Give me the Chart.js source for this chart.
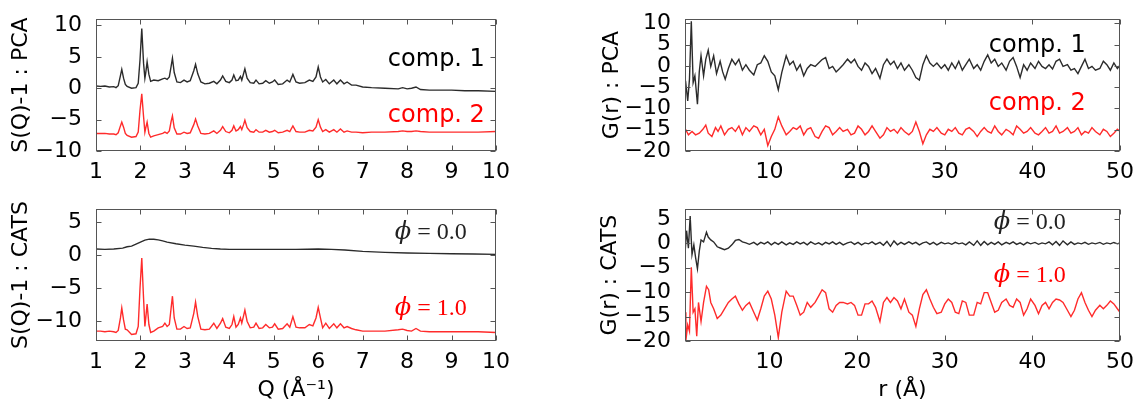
<!DOCTYPE html>
<html><head><meta charset="utf-8">
<script src="https://cdn.jsdelivr.net/npm/chart.js@4.4.1/dist/chart.umd.min.js"></script>
<style>
html,body{margin:0;padding:0;background:#fff;}
#wrap{position:relative;width:1134px;height:403px;overflow:hidden;background:#fff;}
canvas{position:absolute;}
</style></head><body>
<div id="wrap">
<canvas id="tl" width="567" height="185" style="left:0px;top:0px;width:567px;height:185px"></canvas>
<canvas id="tr" width="567" height="185" style="left:567px;top:0px;width:567px;height:185px"></canvas>
<canvas id="bl" width="567" height="213" style="left:0px;top:190px;width:567px;height:213px"></canvas>
<canvas id="br" width="567" height="213" style="left:567px;top:190px;width:567px;height:213px"></canvas>
</div>
<script>
// ---------- tick labels ----------
const Q_TICKS = [1,2,3,4,5,6,7,8,9,10];
const R_TICKS = [10,20,30,40,50];
const SQ_PCA_YTICKS = [-10,-5,0,5,10];
const SQ_CATS_YTICKS = [-10,-5,0,5];
const G_PCA_YTICKS = [-20,-15,-10,-5,0,5,10];
const G_CATS_YTICKS = [-20,-15,-10,-5,0,5];

// ---------- S(Q)-1 data ----------
const Q_PEAKS = [
 1.0,1.1,1.2,1.3,1.4,1.45,1.5,1.55,1.58,1.62,
 1.66,1.7,1.8,1.9,1.95,1.99,2.03,2.07,2.1,2.12,
 2.15,2.19,2.23,2.3,2.4,2.5,2.55,2.6,2.65,2.69,
 2.72,2.76,2.82,2.9,2.98,3.05,3.12,3.2,3.24,3.29,
 3.36,3.45,3.55,3.65,3.72,3.8,3.85,3.92,4.0,4.06,
 4.1,4.15,4.2,4.25,4.28,4.32,4.35,4.4,4.47,4.55,
 4.6,4.67,4.75,4.82,4.9,4.97,5.02,5.1,5.2,5.3,
 5.36,5.43,5.5,5.58,5.7,5.8,5.88,5.95,6.0,6.05,
 6.1,6.17,6.25,6.35,6.42,6.5,6.58,6.65,6.75,6.85,
 7.0,7.2,7.5,7.8,7.9,8.0,8.1,8.2,8.3,8.5,
 8.8,9.0,9.3,9.6,10.0];
const SQ_PCA_COMP1 = [
 0.35,0.3,0.35,0.2,0.25,0.1,0.4,2.0,3.0,1.6,
 0.6,0.3,0.0,0.1,0.8,4.5,9.5,4.0,1.6,2.5,
 4.2,2.2,1.1,1.3,1.2,1.5,1.6,1.4,1.8,3.5,
 4.8,2.5,1.0,0.9,1.3,1.0,1.2,2.8,3.8,2.3,
 1.0,0.7,0.8,1.1,0.7,1.3,1.95,1.1,0.9,1.3,
 2.1,1.2,1.3,1.9,1.3,2.3,3.1,1.6,0.9,0.8,
 1.3,0.7,0.8,1.2,0.8,1.0,1.3,0.6,0.7,1.3,
 1.0,2.2,1.0,0.8,0.9,1.3,1.1,1.8,3.4,1.8,
 1.0,1.4,0.7,1.3,0.7,1.3,0.7,1.0,0.5,0.5,
 0.2,0.1,0.0,-0.1,0.1,-0.1,0.0,0.2,-0.2,-0.3,
 -0.3,-0.3,-0.4,-0.4,-0.5];
const SQ_PCA_COMP2 = [
 -7.2,-7.2,-7.2,-7.3,-7.3,-7.4,-7.1,-6.0,-5.4,-6.2,
 -7.2,-7.5,-7.8,-7.7,-7.0,-3.5,-0.9,-4.5,-7.0,-6.3,
 -5.4,-7.2,-7.8,-7.6,-7.4,-7.2,-7.0,-7.2,-6.8,-5.3,
 -4.4,-6.3,-7.3,-7.3,-7.0,-7.2,-7.1,-5.8,-4.9,-6.0,
 -7.2,-7.3,-7.2,-6.8,-7.2,-6.7,-6.1,-6.9,-7.1,-6.7,
 -6.0,-6.8,-6.6,-6.1,-6.6,-5.8,-5.1,-6.3,-6.9,-7.0,
 -6.6,-7.0,-7.0,-6.7,-7.0,-6.9,-6.7,-7.1,-7.0,-6.7,
 -6.9,-6.0,-6.9,-7.0,-7.0,-6.7,-6.8,-6.2,-5.0,-6.2,
 -6.9,-6.6,-7.0,-6.6,-7.0,-6.5,-7.0,-6.8,-7.0,-7.0,
 -7.1,-7.0,-7.0,-6.9,-6.8,-6.9,-6.9,-6.8,-6.9,-7.0,
 -7.0,-7.0,-7.0,-7.0,-6.9];
const Q_SMOOTH = [1.0,1.2,1.4,1.6,1.7,1.8,1.9,2.0,2.1,2.2,2.3,2.4,2.5,2.6,2.8,3.0,3.2,3.4,3.6,3.8,4.0,4.5,5.0,5.5,6.0,6.3,6.6,7.0,7.5,8.0,8.5,9.0,9.5,10.0];
const SQ_CATS_PHI0 = [0.95,0.9,0.95,1.1,1.3,1.4,1.7,2.0,2.3,2.45,2.45,2.35,2.2,2.0,1.75,1.55,1.4,1.2,1.05,0.95,0.9,0.9,0.9,0.9,0.95,0.9,0.8,0.6,0.45,0.35,0.3,0.25,0.2,0.15];
const SQ_CATS_PHI1 = [
 -11.5,-11.5,-11.6,-11.5,-11.6,-11.7,-11.4,-9.5,-8.0,-9.8,
 -11.2,-11.3,-12.0,-11.9,-10.8,-5.0,-0.4,-6.5,-10.8,-9.5,
 -7.4,-10.5,-11.7,-11.5,-11.0,-10.8,-10.3,-10.8,-10.5,-8.0,
 -6.2,-9.5,-11.2,-11.2,-10.8,-11.1,-11.0,-8.8,-7.1,-9.3,
 -11.2,-11.3,-11.2,-10.3,-11.1,-10.3,-9.6,-10.9,-11.1,-10.5,
 -9.3,-10.9,-10.5,-9.5,-10.3,-9.2,-8.3,-10.0,-11.0,-10.9,
 -10.3,-11.1,-11.0,-10.5,-11.0,-10.9,-10.4,-11.2,-11.1,-10.4,
 -10.9,-9.3,-10.9,-11.0,-11.0,-10.5,-10.7,-9.5,-7.9,-9.5,
 -11.0,-10.3,-11.1,-10.4,-11.0,-10.4,-11.0,-10.8,-11.1,-11.3,
 -11.5,-11.5,-11.5,-11.3,-11.2,-11.4,-11.5,-11.1,-11.5,-11.6,
 -11.6,-11.6,-11.6,-11.6,-11.7];

// ---------- G(r) data ----------
const R_MAIN = [
 5.3,5.7,6.1,6.5,6.9,7.3,7.7,8.2,8.6,9.0,
 9.4,9.8,10.2,10.6,11.0,11.4,11.9,12.3,12.7,13.1,
 13.5,13.9,14.3,14.7,15.2,15.6,16.0,16.4,16.8,17.2,
 17.6,18.0,18.4,18.9,19.3,19.7,20.1,20.5,20.9,21.3,
 21.7,22.1,22.6,23.0,23.4,23.8,24.2,24.6,25.0,25.4,
 25.9,26.3,26.7,27.1,27.5,27.9,28.3,28.7,29.1,29.6,
 30.0,30.4,30.8,31.2,31.6,32.0,32.4,32.8,33.3,33.7,
 34.1,34.5,34.9,35.3,35.7,36.1,36.5,37.0,37.4,37.8,
 38.2,38.6,39.0,39.4,39.8,40.3,40.7,41.1,41.5,41.9,
 42.3,42.7,43.1,43.5,44.0,44.4,44.8,45.2,45.6,46.0,
 46.4,46.8,47.2,47.7,48.1,48.5,48.9,49.3,49.7,50.0];

const R_PCA1_HEAD = [0.41,0.66,0.86,1.07,1.28,1.48,1.77,1.98,2.18,2.47,2.72,3.0,3.29,3.62,3.95,4.36,4.65,4.94];
const G_PCA1_HEAD = [-3.5,-8.2,-3.1,10.5,-3.9,-2.3,-9.0,-1.4,2.4,-2.3,1.55,3.7,-0.1,2.4,-1.8,1.1,-1.4,-3.1];
const G_PCA1_MAIN = [
 -0.6,1.55,0.3,1.55,-1.0,0.3,-1.0,-2.1,0.3,0.7,
 2.4,1.1,-1.4,-2.3,-5.6,-1.5,2.4,0.3,1.1,-1.0,
 0.3,-2.3,-0.6,0.3,-0.1,0.7,1.5,2.0,-0.6,-0.1,
 -1.4,-0.6,0.3,1.6,0.7,1.6,-0.1,-1.0,0.7,-0.1,
 -1.8,-0.6,-2.9,0.3,1.6,0.3,1.1,-0.6,0.7,-1.0,
 0.3,-1.0,-2.7,-3.3,0.3,2.4,0.7,-0.1,0.7,-0.6,
 0.3,-1.0,0.7,-0.6,1.1,-1.0,0.3,1.6,-0.6,0.3,
 -1.0,1.1,2.6,0.7,1.6,-0.1,0.7,-1.0,1.1,2.0,
 -0.1,-2.7,0.3,-1.0,0.7,-0.6,1.1,-0.1,-0.6,0.3,
 -0.7,1.1,1.6,-0.1,0.3,-1.0,-0.6,-1.8,-0.1,1.6,
 -0.6,-0.1,-1.0,-0.6,1.1,0.3,-1.0,0.7,-0.6,0.2];

const R_PCA2_HEAD = [0.41,0.74,1.15,1.56,1.98,2.39,2.72,3.0,3.42,3.83,4.12,4.44,4.86];
const G_PCA2_HEAD = [-14.9,-16.2,-15.4,-16.2,-15.8,-14.9,-13.9,-15.8,-16.6,-14.5,-15.4,-14.1,-16.2];
const G_PCA2_MAIN = [
 -14.9,-14.5,-15.4,-14.1,-16.2,-14.5,-15.4,-14.1,-14.5,-16.2,
 -14.9,-18.7,-16.6,-14.9,-12.0,-14.1,-16.2,-15.4,-14.5,-14.9,
 -14.1,-16.2,-14.9,-14.5,-16.6,-17.0,-15.4,-14.1,-14.5,-16.2,
 -15.4,-14.5,-15.4,-14.9,-16.2,-15.8,-14.1,-14.9,-16.2,-15.4,
 -14.1,-15.4,-17.0,-16.2,-14.5,-15.4,-14.9,-15.8,-14.5,-15.4,
 -16.2,-15.4,-13.2,-15.4,-18.3,-16.2,-14.9,-15.4,-14.5,-15.8,
 -16.2,-14.9,-15.4,-14.5,-15.8,-16.2,-14.9,-14.5,-15.4,-16.6,
 -15.4,-14.5,-15.4,-15.8,-14.1,-15.4,-16.2,-14.9,-15.4,-16.2,
 -14.1,-14.9,-15.8,-15.4,-14.5,-15.8,-16.2,-15.4,-14.5,-15.8,
 -15.4,-14.1,-15.8,-15.4,-14.5,-15.8,-15.4,-14.5,-16.2,-15.4,
 -15.8,-14.5,-15.4,-16.2,-14.9,-15.4,-16.6,-15.8,-14.9,-15.4];

const R_CATS0_HEAD = [0.38,0.53,0.74,0.94,1.15,1.36,1.56,1.77,1.98,2.18,2.47,2.80,3.0,3.29,3.62,4.03,4.44,4.86];
const G_CATS0_HEAD = [-1.3,2.6,-1.0,5.6,-2.3,-0.3,-2.9,-5.2,-1.6,0.7,0.3,2.3,1.3,0.7,0.3,-0.7,-1.0,-1.3];
const G_CATS0_MAIN = [
 -1.0,-0.3,0.6,0.8,0.3,0.1,-0.2,0.2,-0.3,0.2,
 -0.1,0.3,-0.3,0.2,-0.2,0.3,-0.3,0.1,-0.2,0.3,
 -0.1,0.2,-0.3,0.3,-0.2,0.1,-0.3,0.2,-0.1,0.3,
 -0.2,0.2,-0.3,0.1,0.3,-0.2,0.2,-0.3,0.1,-0.1,
 0.3,-0.2,0.2,-0.4,0.4,-0.6,0.5,-0.3,0.2,-0.2,
 0.3,-0.1,0.2,-0.3,0.1,0.3,-0.2,0.2,-0.3,0.2,
 -0.1,0.1,-0.2,0.2,-0.1,0.1,-0.3,0.3,-0.4,0.5,
 -0.4,0.4,-0.3,0.2,-0.2,0.3,-0.3,0.2,-0.1,0.3,
 -0.2,0.1,-0.3,0.2,-0.1,0.2,-0.2,0.1,-0.1,0.3,
 -0.3,0.4,-0.4,0.5,-0.3,0.3,-0.2,0.1,-0.1,0.2,
 -0.2,0.1,-0.1,0.2,-0.2,0.1,-0.1,0.2,-0.1,0.1];

const R_CATS1_HEAD = [0.38,0.45,0.66,0.86,1.07,1.28,1.48,1.69,1.89,2.18,2.47,2.80,3.05,3.29,3.62,4.03,4.44,4.86];
const G_CATS1_HEAD = [-14.1,-19.9,-16.7,-18.0,-4.9,-14.1,-13.4,-19.0,-12.1,-16.0,-12.1,-8.8,-9.5,-12.1,-13.4,-15.4,-14.7,-13.4];
const G_CATS1_MAIN = [
 -12.1,-11.4,-10.8,-12.4,-13.7,-12.7,-12.1,-14.1,-15.7,-13.4,
 -10.8,-9.8,-11.4,-14.7,-19.3,-14.1,-9.8,-10.8,-10.8,-12.7,
 -14.7,-14.1,-12.1,-13.1,-12.1,-10.8,-9.5,-10.1,-13.4,-14.1,
 -12.7,-12.1,-12.1,-12.4,-12.1,-12.7,-14.7,-14.7,-12.4,-12.4,
 -11.8,-13.1,-16.0,-12.1,-11.1,-12.1,-11.1,-11.8,-13.4,-11.4,
 -14.1,-14.7,-17.0,-13.4,-10.5,-9.5,-11.4,-13.1,-14.4,-14.1,
 -12.4,-11.4,-12.1,-14.1,-14.4,-11.8,-12.1,-14.7,-14.7,-12.1,
 -12.4,-10.1,-10.1,-12.1,-14.1,-13.7,-12.1,-11.4,-12.7,-13.1,
 -11.4,-12.1,-14.7,-13.4,-11.4,-12.7,-14.4,-12.7,-12.1,-13.4,
 -12.1,-11.4,-11.6,-12.1,-13.7,-15.0,-13.7,-11.4,-10.1,-12.1,
 -13.7,-15.0,-13.7,-12.7,-13.4,-12.7,-11.8,-12.4,-13.4,-14.1];

// ---------- helpers ----------
const FONT = "'DejaVu Sans', sans-serif";
const BLACK = 'rgba(20,20,20,0.9)';
const RED = 'rgba(255,20,20,0.9)';
const FRAME = '#555';

function pts(xs, ys){ const n = Math.min(xs.length, ys.length); const o = []; for (let i=0;i<n;i++) o.push({x:xs[i], y:ys[i]}); return o; }
function fmt(v){ return v < 0 ? '\u2212' + Math.abs(v) : String(v); }

const framePlugin = {
  id: 'frame',
  afterDatasetsDraw(chart){
    const {ctx, chartArea:a, scales:{x, y}} = chart;
    const L = Math.round(a.left)+0.5, R = Math.round(a.right)-0.5, T = Math.round(a.top)+0.5, B = Math.round(a.bottom)-0.5;
    ctx.save();
    ctx.strokeStyle = FRAME; ctx.lineWidth = 1;
    ctx.beginPath();
    x.ticks.forEach(t => { const p = Math.round(x.getPixelForValue(t.value))+0.5; ctx.moveTo(p,B); ctx.lineTo(p,B-5); ctx.moveTo(p,T); ctx.lineTo(p,T+5); });
    y.ticks.forEach(t => { const p = Math.round(y.getPixelForValue(t.value))+0.5; ctx.moveTo(L,p); ctx.lineTo(L+5,p); ctx.moveTo(R,p); ctx.lineTo(R-5,p); });
    ctx.stroke();
    ctx.strokeRect(L, T, R-L, B-T);
    ctx.restore();
  }
};
function notesPlugin(items){
  return {
    id: 'notes',
    afterDraw(chart){
      const {ctx, scales:{x, y}} = chart;
      items.forEach(it => {
        const px = x.getPixelForValue(it.x), py = y.getPixelForValue(it.y);
        ctx.save();
        ctx.textBaseline = 'middle'; ctx.textAlign = 'left'; ctx.fillStyle = it.color;
        const w = it.parts.map(p => { ctx.font = p.font; return ctx.measureText(p.text).width; });
        let cx = px - w.reduce((s,v)=>s+v,0);
        it.parts.forEach((p,i) => { ctx.font = p.font; ctx.fillText(p.text, cx, py); cx += w[i]; });
        ctx.restore();
      });
    }
  };
}

function makeChart(id, c){
  return new Chart(document.getElementById(id), {
    type: 'line',
    data: { datasets: c.datasets.map(d => ({
      data: d.data, borderColor: d.color, borderWidth: 1.4, pointRadius: 0, tension: 0, fill: false
    }))},
    options: {
      responsive: false, animation: false, devicePixelRatio: 1,
      layout: { padding: { left: 0, right: c.rightPad, top: 19, bottom: 0 } },
      plugins: { legend: {display:false}, tooltip: {enabled:false} },
      scales: {
        x: {
          type: 'linear', min: c.xmin, max: c.xmax,
          grid: {display:false}, border: {display:false},
          ticks: { font:{family:FONT, size:22}, color:'#000', padding:0, maxRotation:0, autoSkip:false, callback: v => fmt(v) },
          afterBuildTicks: s => { s.ticks = c.xticks.map(v => ({value:v})); },
          afterFit: s => { s.height = c.xH; },
          title: { display: !!c.xtitle, text: c.xtitle || '', font:{family:FONT, size:22}, color:'#000', padding:{top:0, bottom:0} }
        },
        y: {
          type: 'linear', min: c.ymin, max: c.ymax,
          grid: {display:false}, border: {display:false},
          ticks: { font:{family:FONT, size:22}, color:'#000', padding:6, autoSkip:false, callback: v => fmt(v) },
          afterBuildTicks: s => { s.ticks = c.yticks.map(v => ({value:v})); },
          afterFit: s => { s.width = c.yW; },
          title: { display: true, text: c.ytitle, font:{family:FONT, size:22}, color:'#000', padding:{top:c.ytPad, bottom:0} }
        }
      }
    },
    plugins: [framePlugin, notesPlugin(c.notes)]
  });
}

const SANS24 = "24px 'DejaVu Sans'";
const PHI = "italic 24px 'DejaVu Serif'";
const SERIF = "24px 'Liberation Serif'";

makeChart('tl', {
  xmin:1, xmax:10, ymin:-10, ymax:11, xticks:Q_TICKS, yticks:SQ_PCA_YTICKS,
  rightPad:71, yW:96, xH:34, ytPad:8, ytitle:'S(Q)-1 : PCA',
  datasets:[ {data:pts(Q_PEAKS, SQ_PCA_COMP1), color:BLACK}, {data:pts(Q_PEAKS, SQ_PCA_COMP2), color:RED} ],
  notes:[ {x:9.75, y:4.6, color:'#000', parts:[{text:'comp. 1', font:SANS24}]},
          {x:9.75, y:-4.4, color:'#ff0000', parts:[{text:'comp. 2', font:SANS24}]} ]
});
makeChart('bl', {
  xmin:1, xmax:10, ymin:-13, ymax:7, xticks:Q_TICKS, yticks:SQ_CATS_YTICKS,
  rightPad:71, yW:96, xH:62, ytPad:8, ytitle:'S(Q)-1 : CATS', xtitle:'Q (\u00c5\u207b\u00b9)',
  datasets:[ {data:pts(Q_SMOOTH, SQ_CATS_PHI0), color:BLACK}, {data:pts(Q_PEAKS, SQ_CATS_PHI1), color:RED} ],
  notes:[ {x:9.34, y:3.4, color:'#222', parts:[{text:'\u03d5', font:PHI},{text:' = 0.0', font:SERIF}]},
          {x:9.34, y:-8.15, color:'#ff0000', parts:[{text:'\u03d5', font:PHI},{text:' = 1.0', font:SERIF}]} ]
});
makeChart('tr', {
  xmin:0.35, xmax:50, ymin:-20, ymax:11, xticks:R_TICKS, yticks:G_PCA_YTICKS,
  rightPad:14, yW:118, xH:34, ytPad:32, ytitle:'G(r) : PCA',
  datasets:[ {data:pts(R_PCA1_HEAD.concat(R_MAIN), G_PCA1_HEAD.concat(G_PCA1_MAIN)), color:BLACK},
             {data:pts(R_PCA2_HEAD.concat(R_MAIN), G_PCA2_HEAD.concat(G_PCA2_MAIN)), color:RED} ],
  notes:[ {x:46.1, y:4.7, color:'#000', parts:[{text:'comp. 1', font:SANS24}]},
          {x:46.1, y:-9.0, color:'#ff0000', parts:[{text:'comp. 2', font:SANS24}]} ]
});
makeChart('br', {
  xmin:0.35, xmax:50, ymin:-20, ymax:7, xticks:R_TICKS, yticks:G_CATS_YTICKS,
  rightPad:14, yW:118, xH:62, ytPad:30, ytitle:'G(r) : CATS', xtitle:'r (\u00c5)',
  datasets:[ {data:pts(R_CATS0_HEAD.concat(R_MAIN), G_CATS0_HEAD.concat(G_CATS0_MAIN)), color:BLACK},
             {data:pts(R_CATS1_HEAD.concat(R_MAIN), G_CATS1_HEAD.concat(G_CATS1_MAIN)), color:RED} ],
  notes:[ {x:43.8, y:4.3, color:'#222', parts:[{text:'\u03d5', font:PHI},{text:' = 0.0', font:SERIF}]},
          {x:43.8, y:-6.6, color:'#ff0000', parts:[{text:'\u03d5', font:PHI},{text:' = 1.0', font:SERIF}]} ]
});
</script>
</body></html>
